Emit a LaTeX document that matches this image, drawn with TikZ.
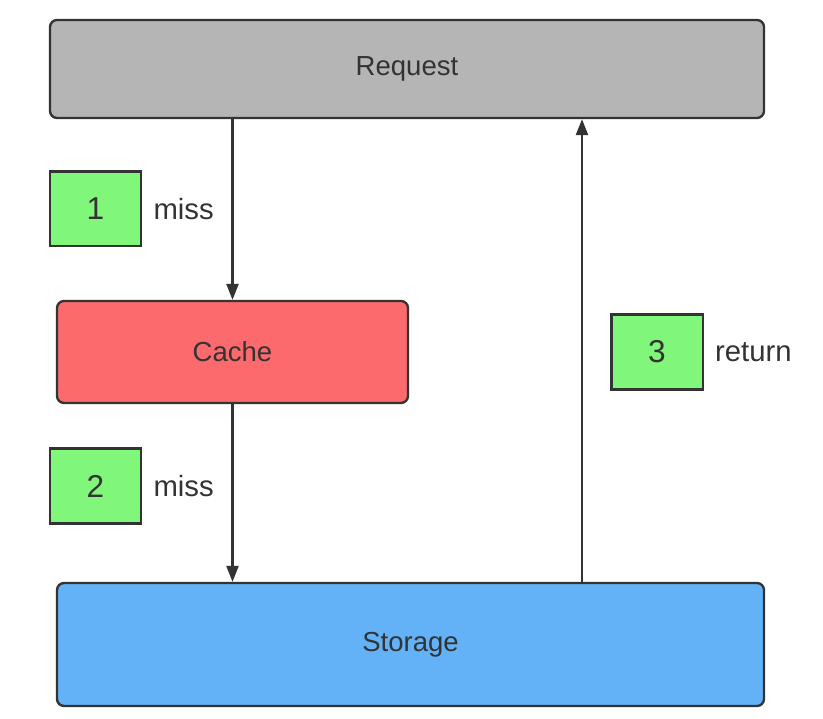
\documentclass[tikz,border=0pt]{standalone}
\usepackage{fontspec}
\setmainfont{Liberation Sans}
\usepackage{tikz}
\usetikzlibrary{arrows.meta,positioning}
\usepackage{xcolor}
\definecolor{edge}{HTML}{333333}
\definecolor{reqgray}{HTML}{B5B5B5}
\definecolor{cachered}{HTML}{FC6A6E}
\definecolor{storeblue}{HTML}{63B2F7}
\definecolor{stepgreen}{HTML}{80F77A}
\tikzset{
  box/.style={draw=edge, line width=2pt, rounded corners=6pt, align=center, inner sep=0pt, text=edge, font=\fontsize{23.5}{28}\selectfont},
  numbox/.style={draw=edge, line width=2pt, fill=stepgreen, inner sep=0pt, minimum width=27.4mm, minimum height=22.4mm, text=edge, font=\fontsize{27}{32}\selectfont},
  label/.style={inner sep=0pt, text=edge, font=\fontsize{25}{30}\selectfont},
  arrow/.style={-{Triangle[length=4.8mm,width=3.6mm]}, line width=2pt, draw=edge}
}
\begin{document}
\begin{tikzpicture}
\useasboundingbox (0,0) rectangle (24.69,21.54);
\node[box, fill=reqgray, minimum width=214.2mm, minimum height=29.4mm] (req) at (12.21,19.47) {Request};
\node[box, fill=cachered, minimum width=105.3mm, minimum height=30.6mm] (cache) at (6.975,10.98) {Cache};
\node[box, fill=storeblue, minimum width=212.1mm, minimum height=36.9mm] (store) at (12.315,2.205) {Storage};
\node[numbox] (n1) at (2.865,15.27) {1};
\node[numbox] (n2) at (2.865,6.96) {2};
\node[numbox] (n3) at (19.71,10.98) {3};
\node[label, right=0.33cm of n1] (l1) {miss};
\node[label, right=0.33cm of n2] (l2) {miss};
\node[label, right=0.33cm of n3] (l3) {return};
\coordinate (up) at (17.46,0);
\draw[arrow] (req.south -| cache.north) -- (cache.north);
\draw[arrow] (cache.south) -- (store.north -| cache.south);
\draw[arrow] (store.north -| up) -- (req.south -| up);
\end{tikzpicture}
\end{document}
